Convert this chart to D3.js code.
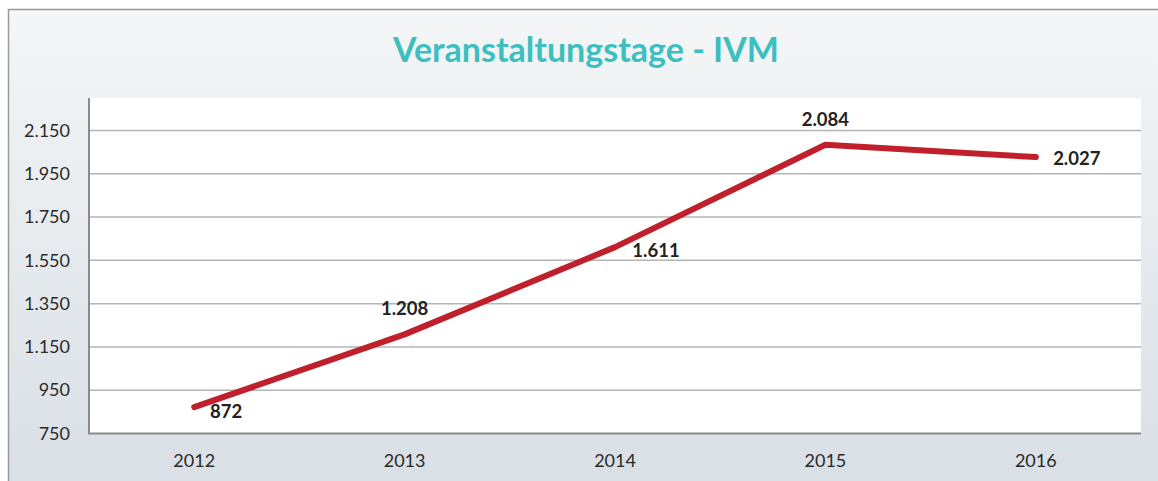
<meta charset="utf-8">
<body></body>
<script src="https://d3js.org/d3.v7.min.js"></script>
<script>
var years = ["2012", "2013", "2014", "2015", "2016"];
var values = [872, 1208, 1611, 2084, 2027];
var yTicks = [750, 950, 1150, 1350, 1550, 1750, 1950, 2150];
var title = "Veranstaltungstage - IVM";

var W = 1158, H = 481;
var plot = {left: 89, top: 98, right: 1141, bottom: 433.5};

var svg = d3.select("body").append("svg")
  .attr("width", W)
  .attr("height", H);

var grad = svg.append("defs").append("linearGradient")
  .attr("id", "bg").attr("x1", 0).attr("y1", 0).attr("x2", 0).attr("y2", 1);
grad.append("stop").attr("offset", "0%").attr("stop-color", "#f4f6f7");
grad.append("stop").attr("offset", "100%").attr("stop-color", "#d8dfe5");

svg.append("rect").attr("x", 0).attr("y", 0).attr("width", W).attr("height", H).attr("fill", "#fff");
svg.append("rect")
  .attr("x", 8).attr("y", 9).attr("width", W).attr("height", H)
  .attr("fill", "url(#bg)");
svg.append("path")
  .attr("d", "M8.5," + H + "V9.5H" + W)
  .attr("fill", "none").attr("stroke", "#9a9a9a").attr("stroke-width", 1.5);

svg.append("text")
  .attr("class", "title")
  .attr("x", 586).attr("y", 62)
  .attr("text-anchor", "middle")
  .text(title);

var x = d3.scaleBand().domain(years).range([plot.left, plot.right]);
var y = d3.scaleLinear().domain([750, 2300]).range([plot.bottom, plot.top]);

svg.append("rect")
  .attr("x", plot.left).attr("y", plot.top)
  .attr("width", plot.right - plot.left).attr("height", plot.bottom - plot.top)
  .attr("fill", "#fff");

// gridlines
svg.append("g").selectAll("line").data(yTicks.slice(1)).enter().append("line")
  .attr("x1", plot.left).attr("x2", plot.right)
  .attr("y1", function(d) { return y(d); }).attr("y2", function(d) { return y(d); })
  .attr("stroke", "#b4b4b4").attr("stroke-width", 1.5);

var yAxis = svg.append("g")
  .attr("class", "axis")
  .attr("transform", "translate(" + plot.left + ",0)")
  .call(d3.axisLeft(y).tickValues(yTicks).tickSize(0).tickPadding(19)
    .tickFormat(function(d) { return d3.format(",")(d).replace(/,/g, "."); }));
yAxis.select(".domain").remove();

var xAxis = svg.append("g")
  .attr("class", "axis")
  .attr("transform", "translate(0," + plot.bottom + ")")
  .call(d3.axisBottom(x).tickSize(0).tickPadding(21));
xAxis.select(".domain").remove();

svg.append("line")
  .attr("x1", plot.left).attr("x2", plot.left)
  .attr("y1", plot.top).attr("y2", plot.bottom)
  .attr("stroke", "#8a8a8a").attr("stroke-width", 2);
svg.append("line")
  .attr("x1", plot.left - 1).attr("x2", plot.right)
  .attr("y1", plot.bottom).attr("y2", plot.bottom)
  .attr("stroke", "#8a8a8a").attr("stroke-width", 2);

var line = d3.line()
  .x(function(d, i) { return x(years[i]) + x.bandwidth() / 2; })
  .y(function(d) { return y(d); });

svg.append("path")
  .datum(values)
  .attr("d", line)
  .attr("fill", "none")
  .attr("stroke", "#c0202b")
  .attr("stroke-width", 6)
  .attr("stroke-linecap", "round")
  .attr("stroke-linejoin", "round");

// label offsets, as placed in the original
var labelDx = [32, 0, 41, 0, 41];
var labelDy = [4, -26, 3, -26, 1];

svg.append("g").selectAll("text").data(values).enter().append("text")
  .attr("class", "lbl")
  .attr("x", function(d, i) { return x(years[i]) + x.bandwidth() / 2 + labelDx[i]; })
  .attr("y", function(d, i) { return y(d) + labelDy[i]; })
  .attr("text-anchor", "middle")
  .attr("dominant-baseline", "central")
  .text(function(d) { return d3.format(",")(d).replace(/,/g, "."); });
</script>
<style>
body { margin: 0; }
svg text { font-family: Lato, "Open Sans", sans-serif; }
.title { font-size: 34px; font-weight: bold; fill: #3dbfbf; }
.axis text { font-size: 18px; fill: #2a2a2a; }
.lbl { font-size: 18.5px; font-weight: bold; fill: #222; }
</style>
